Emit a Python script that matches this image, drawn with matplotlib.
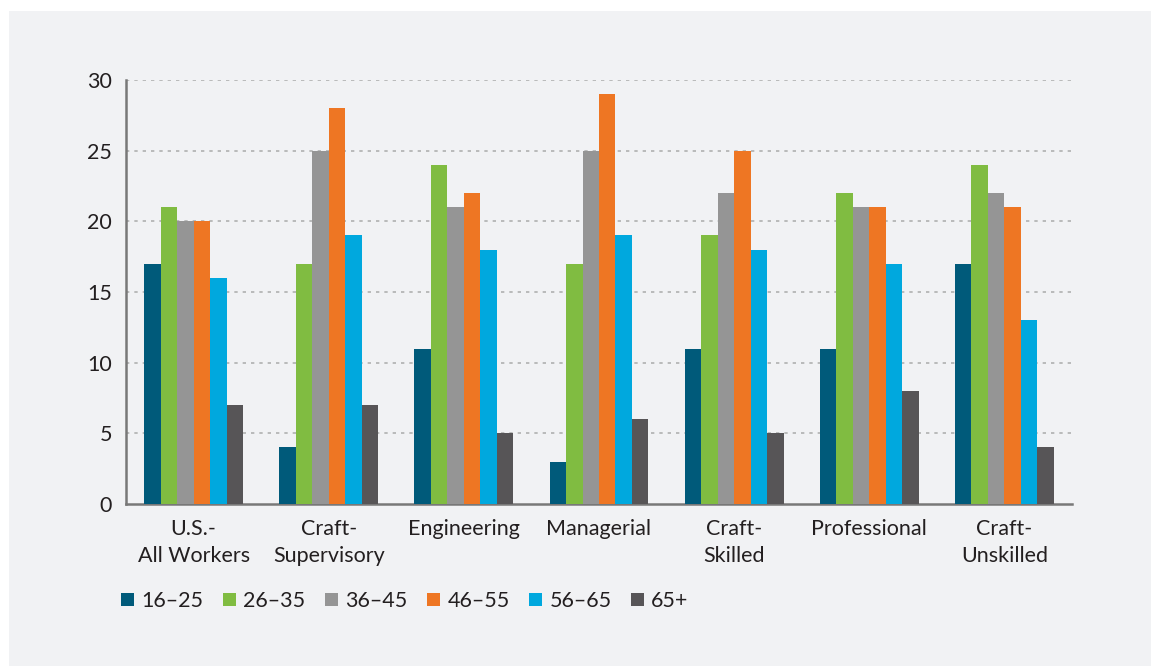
import matplotlib.pyplot as plt
import numpy as np
from matplotlib.patches import Rectangle

plt.rcParams['font.family'] = ['Lato', 'DejaVu Sans']

# --- data ---
categories = ["U.S.-\nAll Workers", "Craft-\nSupervisory", "Engineering", "Managerial",
              "Craft-\nSkilled", "Professional", "Craft-\nUnskilled"]
age_groups = ["16–25", "26–35", "36–45", "46–55", "56–65", "65+"]
age_16_25 = [17, 4, 11, 3, 11, 11, 17]
age_26_35 = [21, 17, 24, 17, 19, 22, 24]
age_36_45 = [20, 25, 21, 25, 22, 21, 22]
age_46_55 = [20, 28, 22, 29, 25, 21, 21]
age_56_65 = [16, 19, 18, 19, 18, 17, 13]
age_65_up = [7, 7, 5, 6, 5, 8, 4]
series = [age_16_25, age_26_35, age_36_45, age_46_55, age_56_65, age_65_up]
y_ticks = [0, 5, 10, 15, 20, 25, 30]

colors = ["#005a7a", "#80bc41", "#959595", "#ee7623", "#00a8de", "#575557"]
text_color = "#231f20"
panel_color = "#f1f2f4"

fig = plt.figure(figsize=(11.51, 6.66), dpi=100)
fig.patch.set_facecolor("white")
# grey panel behind the chart
fig.patches.append(Rectangle((9 / 1151, 0), 1, 1 - 11 / 666, transform=fig.transFigure,
                             facecolor=panel_color, edgecolor="none", zorder=-10))

ax = fig.add_axes([126 / 1151, 1 - 504 / 666, (1072 - 126) / 1151, (504 - 80) / 666])
ax.set_facecolor("none")

x = np.arange(len(categories))
width = 0.122
for i, (vals, col, lab) in enumerate(zip(series, colors, age_groups)):
    offs = (i - (len(series) - 1) / 2) * width
    ax.bar(x + offs, vals, width=width, color=col, label=lab, zorder=3)

ax.set_xlim(-0.5, len(categories) - 0.5)
ax.set_ylim(0, 30)
ax.set_yticks(y_ticks)
ax.set_xticks(x)
ax.set_xticklabels(categories, fontsize=15.5, color=text_color, linespacing=1.45)
ax.tick_params(axis="y", length=0, pad=10, labelsize=15.5, labelcolor=text_color)
ax.tick_params(axis="x", length=0, pad=11)

# dotted gridlines (skip zero)
for yv in y_ticks[1:]:
    ax.axhline(yv, color="#b0b0b0", lw=1.2, linestyle=(0, (2, 3)), zorder=1)

for s in ["top", "right"]:
    ax.spines[s].set_visible(False)
for s in ["left", "bottom"]:
    ax.spines[s].set_color("#787878")
    ax.spines[s].set_linewidth(1.8)

leg = ax.legend(loc="upper left", bbox_to_anchor=(121 / 1151, 1 - 591 / 666),
                bbox_transform=fig.transFigure, ncol=6, frameon=False,
                fontsize=15.5, handlelength=0.6, handleheight=0.6,
                handletextpad=0.35, columnspacing=0.9, borderaxespad=0,
                borderpad=0)
for t in leg.get_texts():
    t.set_color(text_color)

fig.savefig("out.png", dpi=100, facecolor=fig.get_facecolor())
